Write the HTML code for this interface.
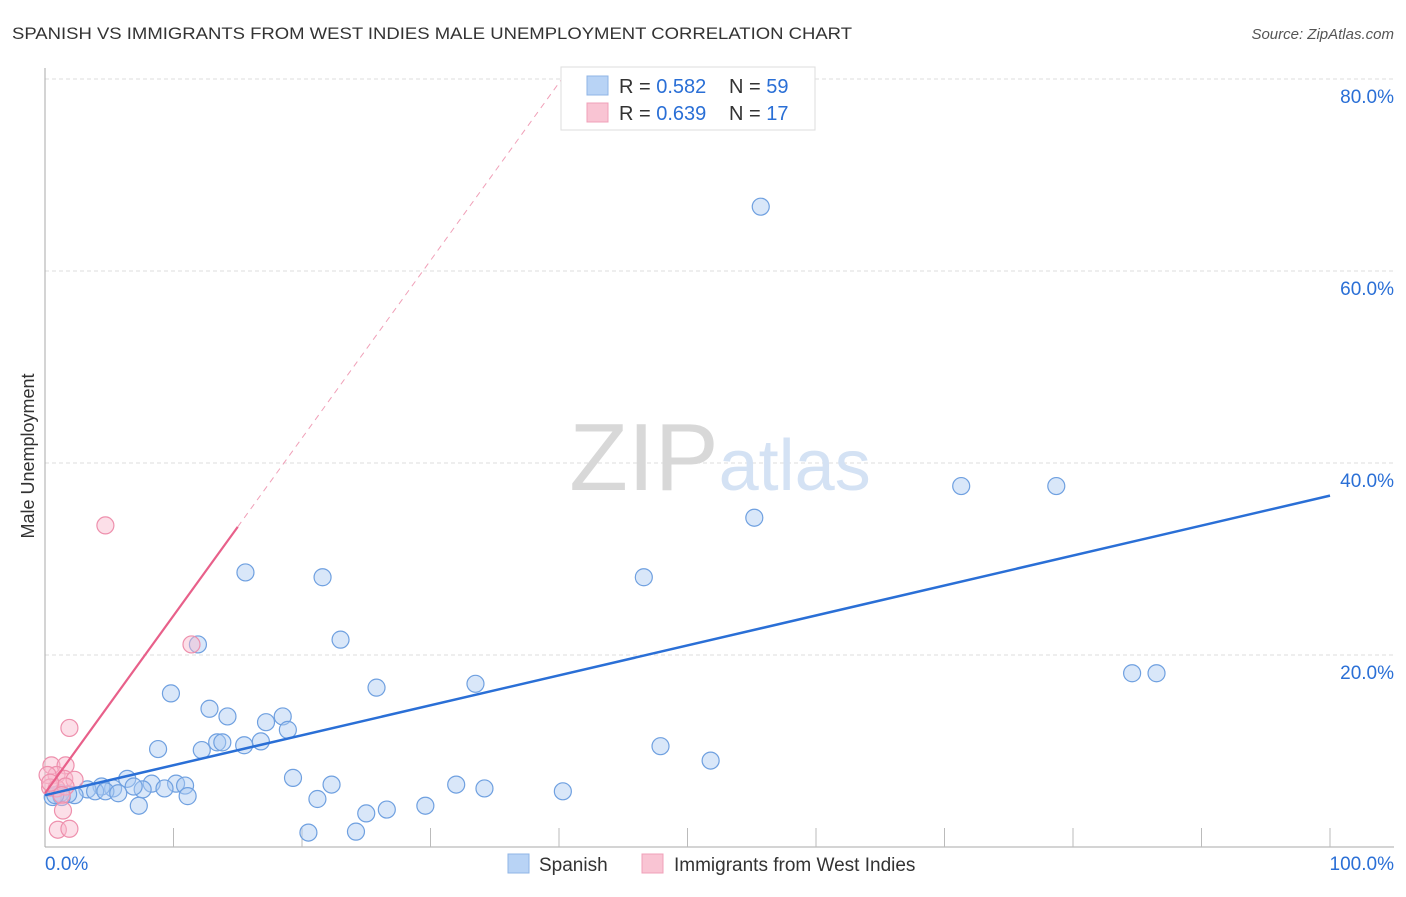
<!DOCTYPE html>
<html><head><meta charset="utf-8"><style>
body{margin:0;background:#fff;font-family:"Liberation Sans",sans-serif;}
svg text{font-family:"Liberation Sans",sans-serif;}
</style></head><body>
<svg width="1406" height="892">
<text x="12" y="39" font-size="17" fill="#333" textLength="840" lengthAdjust="spacingAndGlyphs">SPANISH VS IMMIGRANTS FROM WEST INDIES MALE UNEMPLOYMENT CORRELATION CHART</text>
<text x="1394" y="39" font-size="15" fill="#555" font-style="italic" text-anchor="end">Source: ZipAtlas.com</text>
<text x="34" y="456" font-size="18" fill="#333" text-anchor="middle" transform="rotate(-90 34 456)">Male Unemployment</text>
<g id="grid"></g>
<text x="720" y="490" font-size="96" fill="#ddd" text-anchor="middle" font-family="Liberation Serif"><tspan fill="#d8d8d8">ZIP</tspan><tspan fill="#d4e2f4" font-family="Liberation Sans" font-size="72">atlas</tspan></text>
<g id="pts"></g>
<g id="lines"></g>
<g>
<rect x="561" y="67" width="254" height="63" fill="#fff" stroke="#ddd"/>
<rect x="587" y="76" width="21" height="19" fill="#b8d3f5" stroke="#8fb4e6"/>
<rect x="587" y="103" width="21" height="19" fill="#f9c4d3" stroke="#f0a0b8"/>
<text x="619" y="93" font-size="20" fill="#333">R = <tspan fill="#2a6fd6">0.582</tspan></text>
<text x="729" y="93" font-size="20" fill="#333">N = <tspan fill="#2a6fd6">59</tspan></text>
<text x="619" y="120" font-size="20" fill="#333">R = <tspan fill="#2a6fd6">0.639</tspan></text>
<text x="729" y="120" font-size="20" fill="#333">N =  <tspan fill="#2a6fd6">17</tspan></text>
</g>
<g>
<rect x="508" y="854" width="21" height="19" fill="#b8d3f5" stroke="#8fb4e6"/>
<text x="539" y="871" font-size="19" fill="#333">Spanish</text>
<rect x="642" y="854" width="21" height="19" fill="#f9c4d3" stroke="#f0a0b8"/>
<text x="674" y="871" font-size="19" fill="#333">Immigrants from West Indies</text>
</g>
<text x="45" y="870" font-size="19" fill="#2a6fd6">0.0%</text>
<text x="1394" y="870" font-size="19" fill="#2a6fd6" text-anchor="end">100.0%</text>
</svg>
<script>
const yTicks=[20,40,60,80];
const yTickLabels=["20.0%","40.0%","60.0%","80.0%"];
const xTicks=[10,20,30,40,50,60,70,80,90,100];
const spanishX=[55.7,71.3,78.7,55.2,46.6,15.6,21.6,23.0,11.9,84.6,86.5,25.8,33.5,9.8,12.8,14.2,17.2,18.5,18.9,13.4,13.8,15.5,16.8,8.8,12.2,47.9,51.8,19.3,22.3,32.0,34.2,40.3,6.4,8.3,10.2,10.9,9.3,7.6,6.9,5.3,4.4,3.3,3.9,4.7,5.7,2.3,1.8,1.2,0.6,1.3,11.1,21.2,7.3,29.6,26.6,25.0,20.5,24.2,0.8];
const spanishY=[66.7,37.6,37.6,34.3,28.1,28.6,28.1,21.6,21.1,18.1,18.1,16.6,17.0,16.0,14.4,13.6,13.0,13.6,12.2,10.9,10.9,10.6,11.0,10.2,10.1,10.5,9.0,7.2,6.5,6.5,6.1,5.8,7.1,6.6,6.6,6.4,6.1,6.0,6.3,6.1,6.3,6.0,5.8,5.8,5.6,5.4,5.5,5.6,5.2,5.2,5.3,5.0,4.3,4.3,3.9,3.5,1.5,1.6,5.4];
const wiX=[4.7,11.4,1.9,0.5,1.6,0.9,1.5,0.2,2.3,0.4,0.9,1.6,1.3,1.4,1.0,1.9,0.4];
const wiY=[33.5,21.1,12.4,8.5,8.5,7.5,7.1,7.5,7.0,6.2,6.1,6.3,5.4,3.8,1.8,1.9,6.7];
const blueLine=[5.4,36.6];
const pinkLine=[5.6,1.85];
const X=v=>45+v*12.85, Y=v=>847-v*9.6;
const NS="http://www.w3.org/2000/svg";
function mk(t,a,p){const e=document.createElementNS(NS,t);for(const k in a)e.setAttribute(k,a[k]);p.appendChild(e);return e;}
const g=document.getElementById('grid');
yTicks.forEach((t,i)=>{
 const l=mk('line',{x1:45,x2:1394,y1:Y(t),y2:Y(t),stroke:'#ddd','stroke-dasharray':'4,3'},g);
 
 
 const tx=mk('text',{x:1394,y:Y(t)+24,'font-size':19,fill:'#2a6fd6','text-anchor':'end'},g);tx.textContent=yTickLabels[i];
 
 
});
const ax=mk('line',{x1:45,x2:45,y1:68,y2:847,stroke:'#aaa'},g);


const bx=mk('line',{x1:45,x2:1394,y1:847,y2:847,stroke:'#aaa'},g);


xTicks.forEach(t=>{const l=mk('line',{x1:X(t),x2:X(t),y1:828,y2:847,stroke:'#bbb'},g);
 
 });
const p=document.getElementById('pts');
spanishX.forEach((v,i)=>{const c=mk('circle',{cx:X(v),cy:Y(spanishY[i]),r:8.5,fill:'rgba(170,202,242,0.45)',stroke:'#6fa0e0','stroke-width':1.2},p);
 
 });
wiX.forEach((v,i)=>{const c=mk('circle',{cx:X(v),cy:Y(wiY[i]),r:8.5,fill:'rgba(248,185,205,0.45)',stroke:'#ee90ad','stroke-width':1.2},p);
 
 });
const L=document.getElementById('lines');
const bl=mk('line',{x1:X(0),y1:Y(blueLine[0]),x2:X(100),y2:Y(blueLine[1]),stroke:'#2a6fd6','stroke-width':2.5},L);


const pe=15, pd=(80-pinkLine[0])/pinkLine[1];
const pl=mk('line',{x1:X(0),y1:Y(pinkLine[0]),x2:X(pe),y2:Y(pinkLine[0]+pinkLine[1]*pe),stroke:'#e8608a','stroke-width':2.2},L);


const pdl=mk('line',{x1:X(pe),y1:Y(pinkLine[0]+pinkLine[1]*pe),x2:X(pd),y2:Y(80),stroke:'#f0a0b8','stroke-width':1,'stroke-dasharray':'6,5'},L);


</script>
</body></html>
